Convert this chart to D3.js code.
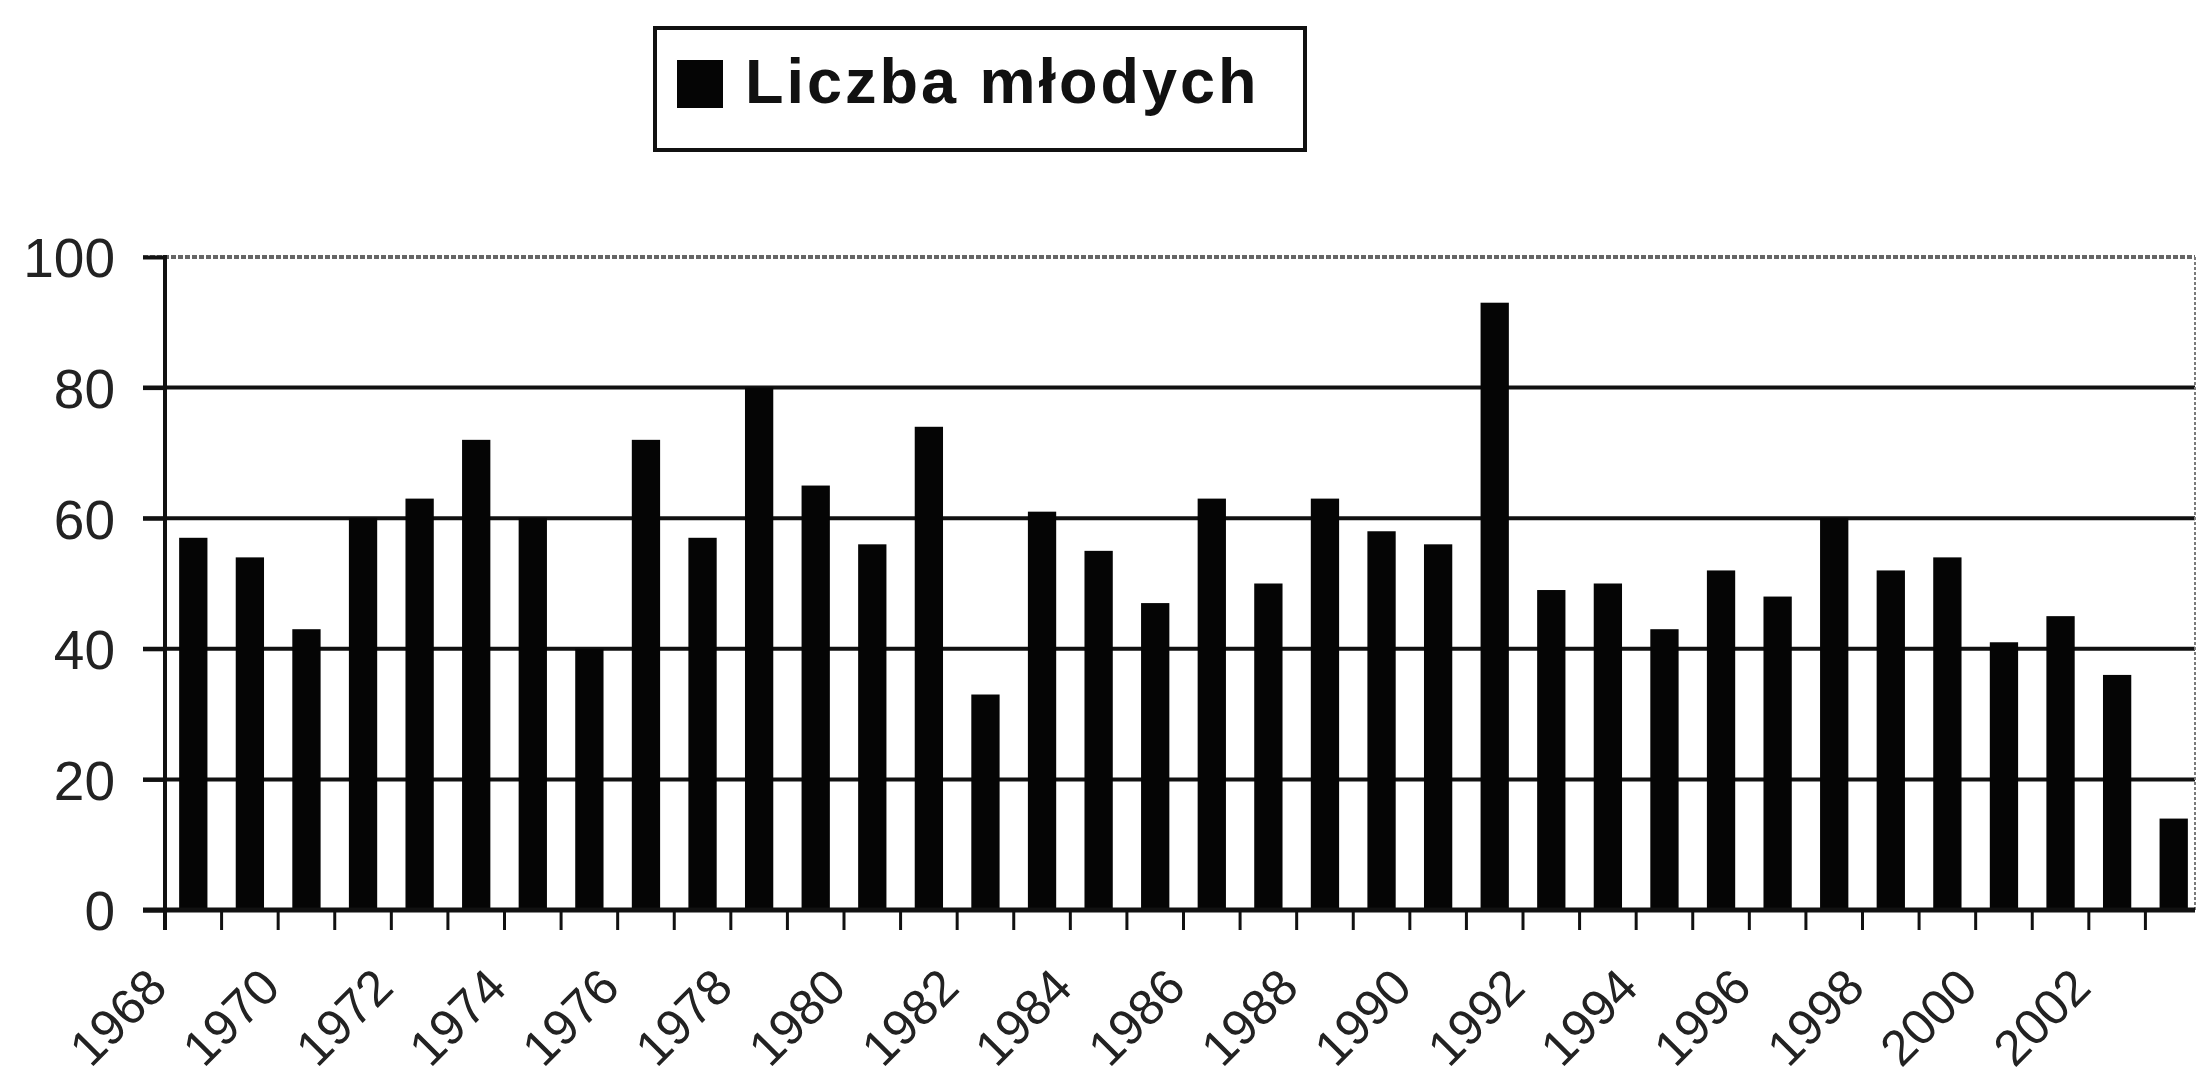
<!DOCTYPE html>
<html>
<head>
<meta charset="utf-8">
<script src="https://cdn.jsdelivr.net/npm/d3@7"></script>
<style>
  body { margin: 0; background: #fff; }
  svg { display: block; font-family: "Liberation Sans", Arial, sans-serif; }
</style>
</head>
<body>
<div id="chart"></div>
<script>
const years = [1968, 1969, 1970, 1971, 1972, 1973, 1974, 1975, 1976, 1977, 1978, 1979,
  1980, 1981, 1982, 1983, 1984, 1985, 1986, 1987, 1988, 1989, 1990, 1991,
  1992, 1993, 1994, 1995, 1996, 1997, 1998, 1999, 2000, 2001, 2002, 2003]
const young = [57, 54, 43, 60, 63, 72, 60, 40, 72, 57, 80, 65,
  56, 74, 33, 61, 55, 47, 63, 50, 63, 58, 56, 93,
  49, 50, 43, 52, 48, 60, 52, 54, 41, 45, 36, 14]
const yTicks = [0, 20, 40, 60, 80, 100]
const xLabels = years.filter(y => y % 2 === 0)
const seriesName = 'Liczba młodych'

const width = 2197,
    height = 1084
const margin = { top: 257, right: -5, bottom: 174, left: 165 }

const svg = d3.select('#chart').append('svg')
  .attr('width', width)
  .attr('height', height)

const x = d3.scaleBand()
  .domain(years)
  .range([margin.left, width - margin.right])
  .paddingInner(0.5)
  .paddingOuter(0.25)

const y = d3.scaleLinear()
  .domain([0, 100])
  .range([height - margin.bottom, margin.top])

const step = x.step()
const bw = x.bandwidth()
const x0 = margin.left
const x1 = Math.min(x.range()[1], width - 2)

// gridlines (the top one is grey and dotted like the frame)
svg.append('g')
  .selectAll('line')
  .data(yTicks.filter(d => d > 0))
  .join('line')
  .attr('x1', x0 - 22)
  .attr('x2', x1)
  .attr('y1', d => y(d))
  .attr('y2', d => y(d))
  .attr('stroke', d => d === 100 ? '#666' : '#111')
  .attr('stroke-width', 4)
  .attr('stroke-dasharray', d => d === 100 ? '5,2' : null)

// right side of the plot frame
svg.append('line')
  .attr('x1', x1).attr('x2', x1)
  .attr('y1', y(100)).attr('y2', y(0))
  .attr('stroke', '#7a7a7a')
  .attr('stroke-width', 2)
  .attr('stroke-dasharray', '3,2')

// bars
svg.append('g')
  .selectAll('rect')
  .data(years)
  .join('rect')
  .attr('x', d => x(d))
  .attr('width', bw)
  .attr('y', (d, i) => y(young[i]))
  .attr('height', (d, i) => y(0) - y(young[i]))
  .attr('fill', '#050505')

// y axis
const yAxis = d3.axisLeft(y)
  .tickValues(yTicks)
  .tickSize(22)
  .tickPadding(28)

const gy = svg.append('g')
  .attr('transform', `translate(${x0},0)`)
  .call(yAxis)
gy.select('.domain').remove()
gy.selectAll('.tick line').attr('stroke', '#111').attr('stroke-width', 4)
gy.selectAll('.tick text')
  .attr('font-size', 55)
  .attr('fill', '#222')
  .attr('dy', '0.36em')
svg.append('line')
  .attr('x1', x0).attr('x2', x0)
  .attr('y1', y(100) - 2).attr('y2', y(0) + 20)
  .attr('stroke', '#111')
  .attr('stroke-width', 4)

// x axis: baseline, ticks between categories, slanted year labels
svg.append('line')
  .attr('x1', x0 - 22).attr('x2', x1)
  .attr('y1', y(0)).attr('y2', y(0))
  .attr('stroke', '#111')
  .attr('stroke-width', 5)

svg.append('g')
  .selectAll('line')
  .data(years)
  .join('line')
  .attr('x1', d => x(d) - step * 0.25)
  .attr('x2', d => x(d) - step * 0.25)
  .attr('y1', y(0))
  .attr('y2', y(0) + 20)
  .attr('stroke', '#111')
  .attr('stroke-width', 3)

svg.append('g')
  .selectAll('text')
  .data(xLabels)
  .join('text')
  .attr('transform', d => `translate(${x(d) + bw / 2 - 24},${y(0) + 80}) rotate(-45)`)
  .attr('text-anchor', 'end')
  .attr('font-size', 50)
  .attr('fill', '#222')
  .text(d => d)

// legend
const legend = svg.append('g')
legend.append('rect')
  .attr('x', 655).attr('y', 28)
  .attr('width', 650).attr('height', 122)
  .attr('fill', '#fff')
  .attr('stroke', '#111')
  .attr('stroke-width', 4)
legend.append('rect')
  .attr('x', 677).attr('y', 60)
  .attr('width', 46).attr('height', 48)
  .attr('fill', '#050505')
legend.append('text')
  .attr('x', 745).attr('y', 103)
  .attr('font-size', 63)
  .attr('font-weight', 'bold')
  .attr('letter-spacing', 3)
  .attr('fill', '#111')
  .text(seriesName)
</script>
</body>
</html>
